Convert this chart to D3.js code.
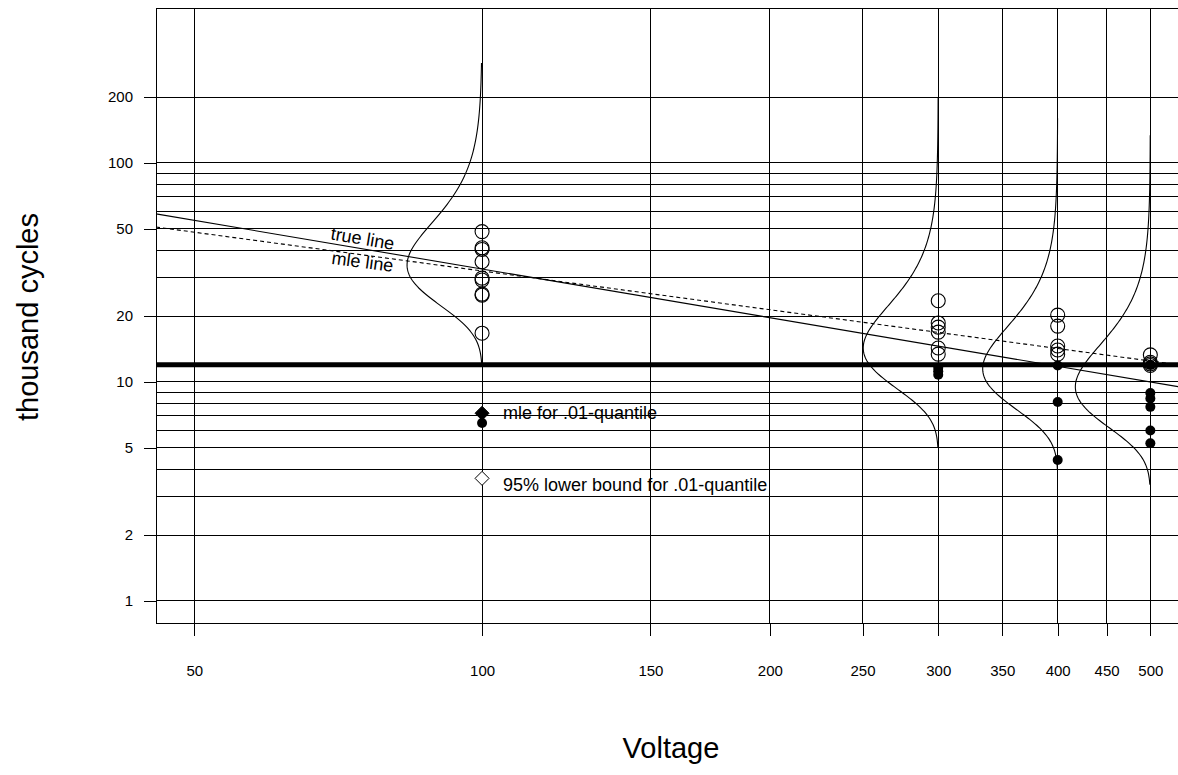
<!DOCTYPE html>
<html><head><meta charset="utf-8">
<script src="https://cdn.jsdelivr.net/npm/d3@7"></script>
<style>
html,body{margin:0;padding:0;background:#fff;}
svg{display:block;font-family:"Liberation Sans",Arial,Helvetica,sans-serif;}
</style></head><body>
<svg id="chart" width="1178" height="775"></svg>
<script>
// Test voltages and observed lives (thousand cycles)
const voltages = [100, 300, 400, 500];
const openLives = [
  [48.6, 41.0, 40.3, 35.4, 29.8, 29.2, 25.2, 24.9, 16.7],
  [23.5, 18.6, 17.8, 16.9, 14.3, 13.4],
  [20.2, 18.0, 14.6, 14.0, 13.4],
  [13.3, 12.3, 12.1, 11.9]
];
const filledLives = [
  [6.5],
  [11.6, 11.2, 10.8],
  [11.9, 8.1, 4.4],
  [12.0, 8.9, 8.4, 7.7, 6.0, 5.25]
];

// Life distribution drawn sideways at each voltage: mode and plotted range
const curveMode = [34.2, 14.3, 11.5, 9.5];
const curveLow = [12.0, 5.0, 4.0, 3.4];
const curveHigh = [286, 198, 160, 134];
const curveSpread = 0.192;   // in decades of life
const curveSkew = 0.7;

// Regression lines, life at 50 V and 500 V
const lineVolts = [50, 500];
const trueLine = [54.7, 10.0];
const mleLine = [48.3, 12.47];

// Reference life and .01-quantile estimates at 100 V
const refLife = 12;
const quantileVolt = 100;
const quantileMle = 7.2;
const quantileLower = 3.63;

// Axes
const xTicks = [50, 100, 150, 200, 250, 300, 350, 400, 450, 500];
const yTicks = [1, 2, 5, 10, 20, 50, 100, 200];
const yGrid = [1, 2, 3, 4, 5, 6, 7, 8, 9, 10, 20, 30, 40, 50, 60, 70, 80, 90, 100, 200];

(function () {
const svg = d3.select("#chart");
const pLeft = 156, pTop = 8.3, pBottom = 623, pRight = 1197.4;

const x = d3.scaleLog().domain([45.6, 560]).range([pLeft, pRight]);
const y = d3.scaleLog().domain([0.7933, 508.6]).range([pBottom, pTop]);

svg.append("defs").append("clipPath").attr("id", "plotclip")
  .append("rect").attr("x", pLeft).attr("y", pTop)
  .attr("width", pRight - pLeft).attr("height", pBottom - pTop);

// grid
const grid = svg.append("g").attr("stroke", "#000").attr("stroke-width", 1)
  .attr("shape-rendering", "crispEdges");
grid.selectAll("line.h").data(yGrid).join("line").attr("class", "h")
  .attr("x1", pLeft).attr("x2", pRight)
  .attr("y1", d => y(d)).attr("y2", d => y(d));
grid.selectAll("line.v").data(xTicks).join("line").attr("class", "v")
  .attr("x1", d => x(d)).attr("x2", d => x(d))
  .attr("y1", pTop).attr("y2", pBottom);

// frame
svg.append("path")
  .attr("d", `M${pRight},${pTop}H${pLeft}V${pBottom}H${pRight}`)
  .attr("fill", "none").attr("stroke", "#000").attr("stroke-width", 1)
  .attr("shape-rendering", "crispEdges");

// axes
const xAxis = svg.append("g").attr("transform", `translate(0,${pBottom})`)
  .call(d3.axisBottom(x).tickValues(xTicks).tickFormat(d3.format("d")).tickSize(13).tickPadding(29));
const yAxis = svg.append("g").attr("transform", `translate(${pLeft},0)`)
  .call(d3.axisLeft(y).tickValues(yTicks).tickFormat(d3.format("d")).tickSize(12).tickPadding(11));
[xAxis, yAxis].forEach(a => {
  a.select(".domain").remove();
  a.selectAll("line").attr("stroke", "#000").attr("shape-rendering", "crispEdges");
  a.selectAll("text").attr("font-size", 15).attr("fill", "#000")
    .attr("font-family", '"Liberation Sans", Arial, sans-serif');
});

svg.append("text").attr("x", 671).attr("y", 758).attr("text-anchor", "middle")
  .attr("font-size", 29).text("Voltage");
svg.append("text").attr("transform", "translate(38,317) rotate(-90)")
  .attr("text-anchor", "middle").attr("font-size", 29).text("thousand cycles");

const plot = svg.append("g").attr("clip-path", "url(#plotclip)");

// reference life
plot.append("line")
  .attr("x1", pLeft).attr("x2", pRight)
  .attr("y1", y(refLife)).attr("y2", y(refLife))
  .attr("stroke", "#000").attr("stroke-width", 5);

// straight lines in log-log space
function lineLife(vals, v) {
  const b = Math.log(vals[1] / vals[0]) / Math.log(lineVolts[1] / lineVolts[0]);
  return vals[0] * Math.pow(v / lineVolts[0], b);
}
const vDom = x.domain();
function drawLine(vals, dash) {
  plot.append("line")
    .attr("x1", x(vDom[0])).attr("y1", y(lineLife(vals, vDom[0])))
    .attr("x2", x(vDom[1])).attr("y2", y(lineLife(vals, vDom[1])))
    .attr("stroke", "#000").attr("stroke-width", 1.1)
    .attr("stroke-dasharray", dash);
}
drawLine(trueLine, null);
drawLine(mleLine, "4,3");

function lineLabel(vals, txt, px, dy) {
  const v = x.invert(px);
  const a = Math.atan2(y(lineLife(vals, vDom[1])) - y(lineLife(vals, vDom[0])),
                       x(vDom[1]) - x(vDom[0])) * 180 / Math.PI;
  svg.append("text")
    .attr("transform", `translate(${px},${y(lineLife(vals, v)) + dy}) rotate(${a})`)
    .attr("font-size", 18).text(txt);
}
lineLabel(trueLine, "true line", 330, -4);
lineLabel(mleLine, "mle line", 331, 13);

// sideways densities
const lineGen = d3.line().x(d => d[0]).y(d => d[1]).curve(d3.curveLinear);
voltages.forEach((v, i) => {
  const lo = Math.log10(curveLow[i]), hi = Math.log10(curveHigh[i]);
  const m = Math.log10(curveMode[i]);
  const n = 240;
  const pts = d3.range(n + 1).map(k => {
    const u = lo + (hi - lo) * k / n;
    const z = (u - m) / curveSpread;
    const g = (Math.exp(-curveSkew * z) - 1 + curveSkew * z) / (curveSkew * curveSkew);
    return [x(v) - 75 * Math.exp(-g), y(Math.pow(10, u))];
  });
  plot.append("path").attr("d", lineGen(pts))
    .attr("fill", "none").attr("stroke", "#000").attr("stroke-width", 1.1);
});

// observed lives
voltages.forEach((v, i) => {
  plot.selectAll(null).data(openLives[i]).join("circle")
    .attr("cx", x(v)).attr("cy", d => y(d)).attr("r", 7)
    .attr("fill", "none").attr("stroke", "#000").attr("stroke-width", 1.1);
  plot.selectAll(null).data(filledLives[i]).join("circle")
    .attr("cx", x(v)).attr("cy", d => y(d)).attr("r", 5)
    .attr("fill", "#000");
});

// .01-quantile markers
const diamond = "M0,-7L7,0L0,7L-7,0Z";
plot.append("path").attr("d", diamond)
  .attr("transform", `translate(${x(quantileVolt)},${y(quantileMle)})`)
  .attr("fill", "#000").attr("stroke", "#000");
plot.append("path").attr("d", diamond)
  .attr("transform", `translate(${x(quantileVolt)},${y(quantileLower)})`)
  .attr("fill", "#fff").attr("stroke", "#000");

svg.append("text").attr("x", x(quantileVolt) + 21).attr("y", y(quantileMle) + 6)
  .attr("font-size", 18).text("mle for .01-quantile");
svg.append("text").attr("x", x(quantileVolt) + 21).attr("y", y(quantileLower) + 13)
  .attr("font-size", 18).text("95% lower bound for .01-quantile");
})();
</script>
</body></html>
